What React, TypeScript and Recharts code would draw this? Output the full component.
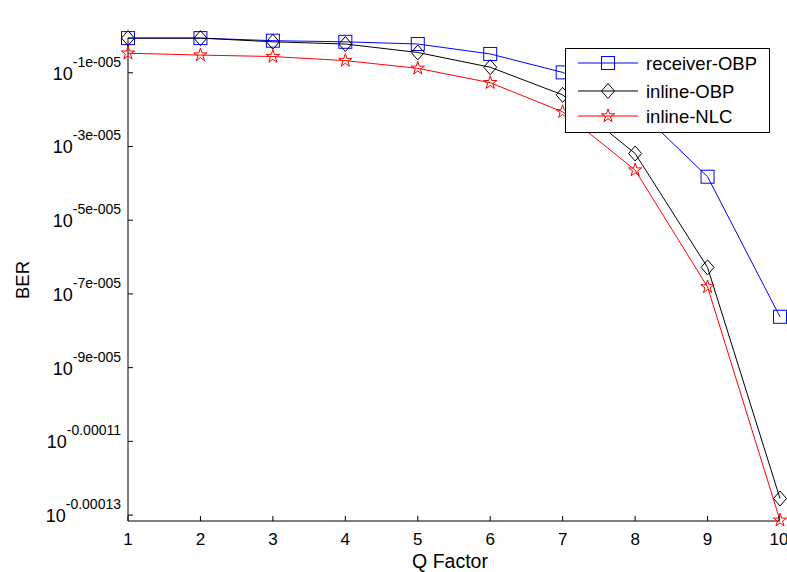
import { Legend, Line, LineChart, XAxis, YAxis } from 'recharts';

// log10(BER); each axis step is 2e-5 in the exponent
const qFactor = [1, 2, 3, 4, 5, 6, 7, 8, 9, 10];
const receiverObp = [-0.06e-5, -0.06e-5, -0.13e-5, -0.16e-5, -0.22e-5, -0.49e-5, -0.99e-5, -1.93e-5, -3.82e-5, -7.62e-5];
const inlineObp = [-0.06e-5, -0.06e-5, -0.16e-5, -0.22e-5, -0.45e-5, -0.85e-5, -1.6e-5, -3.19e-5, -6.28e-5, -12.55e-5];
const inlineNlc = [-0.47e-5, -0.52e-5, -0.56e-5, -0.67e-5, -0.88e-5, -1.27e-5, -2.06e-5, -3.64e-5, -6.81e-5, -13.14e-5];

const yTicks = [-1e-5, -3e-5, -5e-5, -7e-5, -9e-5, -11e-5, -13e-5];
const yTickLabels = ['-1e-005', '-3e-005', '-5e-005', '-7e-005', '-9e-005', '-0.00011', '-0.00013'];
const yDomain: [number, number] = [-13.16e-5, -0.057e-5];

const FONT = '"Liberation Sans", Arial, sans-serif';

const data = qFactor.map((q, i) => ({
  q,
  receiver: receiverObp[i],
  inline: inlineObp[i],
  nlc: inlineNlc[i],
}));

const series = [
  { key: 'receiver', label: 'receiver-OBP', color: '#0000ff', shape: 'square' },
  { key: 'inline', label: 'inline-OBP', color: '#000000', shape: 'diamond' },
  { key: 'nlc', label: 'inline-NLC', color: '#ff0000', shape: 'star' },
];

function starPath(cx: number, cy: number, r: number) {
  const inner = r * 0.382;
  let d = '';
  for (let i = 0; i < 10; i++) {
    const rad = i % 2 === 0 ? r : inner;
    const a = -Math.PI / 2 + (i * Math.PI) / 5;
    d += `${i === 0 ? 'M' : 'L'}${cx + rad * Math.cos(a)},${cy + rad * Math.sin(a)}`;
  }
  return d + 'Z';
}

function Marker({ shape, cx, cy, color }: any) {
  if (shape === 'square') {
    return <rect x={cx - 6.5} y={cy - 6.5} width={13} height={13} fill="none" stroke={color} strokeWidth={1} />;
  }
  if (shape === 'diamond') {
    return <path d={`M${cx},${cy - 7.5}L${cx + 6.5},${cy}L${cx},${cy + 7.5}L${cx - 6.5},${cy}Z`} fill="none" stroke={color} strokeWidth={1} />;
  }
  return <path d={starPath(cx, cy, 7)} fill="none" stroke={color} strokeWidth={1} />;
}

const makeDot = (shape: string, color: string) => (props: any) => {
  const { cx, cy, index } = props;
  return (
    <g key={`${shape}-${index}`}>
      <Marker shape={shape} cx={cx} cy={cy} color={color} />
    </g>
  );
};

function LeftTick({ x, y, payload }: any) {
  const idx = yTicks.findIndex((t) => Math.abs(t - payload.value) < 1e-9);
  return (
    <g>
      <line x1={x} x2={x + 5} y1={y} y2={y} stroke="#000" />
      <text x={x - 7} y={y} textAnchor="end" fontFamily={FONT} fill="#000">
        <tspan fontSize={18} dy={7}>10</tspan>
        <tspan fontSize={14} dy={-13}>{yTickLabels[idx]}</tspan>
      </text>
    </g>
  );
}

function RightTick({ x, y }: any) {
  return <line x1={x} x2={x - 5} y1={y} y2={y} stroke="#000" />;
}

function BottomTick({ x, y, payload }: any) {
  return (
    <g>
      <line x1={x} x2={x} y1={y} y2={y - 5} stroke="#000" />
      <text x={x} y={y + 24} textAnchor="middle" fontSize={17} fontFamily={FONT} fill="#000">
        {payload.value}
      </text>
    </g>
  );
}

function TopTick({ x, y }: any) {
  return <line x1={x} x2={x} y1={y} y2={y + 5} stroke="#000" />;
}

function LegendBox() {
  const rows = [15, 43, 68];
  return (
    <svg width={205} height={85}>
      <rect x={0.5} y={0.5} width={204} height={84} fill="#fff" stroke="#000" />
      {series.map((s, i) => (
        <g key={s.key}>
          <line x1={13} x2={73} y1={rows[i]} y2={rows[i]} stroke={s.color} />
          <Marker shape={s.shape} cx={43} cy={rows[i]} color={s.color} />
          <text x={81} y={rows[i] + 6.5} fontSize={18.5} fontFamily={FONT} fill="#000">
            {s.label}
          </text>
        </g>
      ))}
    </svg>
  );
}

export default function App() {
  return (
    <div style={{ width: 787, height: 572, background: '#fff', overflow: 'hidden' }}>
      <style>{'body{margin:0}'}</style>
      <LineChart width={787} height={572} data={data} margin={{ top: 38, right: 7, bottom: 0, left: 0 }}>
        <XAxis
          dataKey="q"
          type="number"
          domain={[1, 10]}
          ticks={qFactor}
          height={51}
          tickSize={0}
          tickMargin={0}
          tickLine={false}
          axisLine={{ stroke: '#000' }}
          tick={<BottomTick />}
          label={{
            content: () => (
              <text x={450} y={568} textAnchor="middle" fontSize={19.5} fontFamily={FONT} fill="#000">
                Q Factor
              </text>
            ),
          }}
        />
        <XAxis
          xAxisId="top"
          dataKey="q"
          type="number"
          orientation="top"
          domain={[1, 10]}
          ticks={qFactor}
          height={0}
          tickSize={0}
          tickMargin={0}
          tickLine={false}
          axisLine={{ stroke: '#000' }}
          tick={<TopTick />}
          label={{
            content: () => (
              <text x={453} y={26} textAnchor="middle" fontSize={19.5} fontFamily={FONT} fill="#000">
                BER vs Q Factor
              </text>
            ),
          }}
        />
        <YAxis
          yAxisId="left"
          type="number"
          domain={yDomain}
          ticks={yTicks}
          width={128}
          tickSize={0}
          tickMargin={0}
          tickLine={false}
          axisLine={{ stroke: '#000' }}
          tick={<LeftTick />}
          label={{
            content: () => (
              <text x={29} y={280} transform="rotate(-90 29 280)" textAnchor="middle" fontSize={18.5} fontFamily={FONT} fill="#000">
                BER
              </text>
            ),
          }}
        />
        <YAxis
          yAxisId="right"
          orientation="right"
          type="number"
          domain={yDomain}
          ticks={yTicks}
          width={0}
          tickSize={0}
          tickMargin={0}
          tickLine={false}
          axisLine={{ stroke: '#000' }}
          tick={<RightTick />}
        />
        <Legend
          layout="horizontal"
          verticalAlign="middle"
          align="center"
          content={() => <LegendBox />}
          wrapperStyle={{ position: 'absolute', left: 565, top: 48, width: 205, height: 85 }}
        />
        {series.map((s) => (
          <Line
            key={s.key}
            yAxisId="left"
            type="linear"
            dataKey={s.key}
            name={s.label}
            stroke={s.color}
            strokeWidth={1}
            dot={makeDot(s.shape, s.color)}
            activeDot={false}
            isAnimationActive={false}
          />
        ))}
      </LineChart>
    </div>
  );
}
